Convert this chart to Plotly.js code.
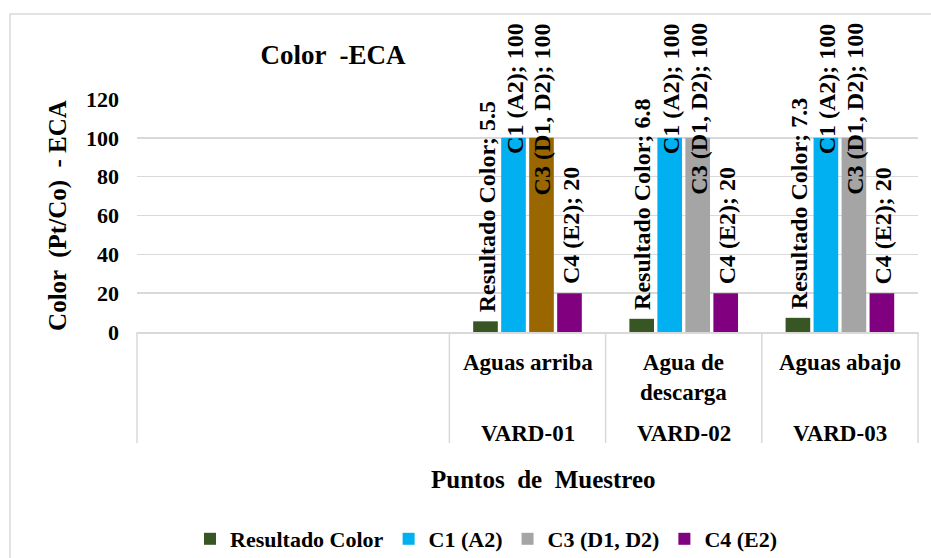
<!DOCTYPE html>
<html><head><meta charset="utf-8">
<script src="https://cdn.plot.ly/plotly-3.0.1.min.js"></script>
<style>html,body{margin:0;padding:0;background:#fff}#chart{width:931px;height:558px}</style>
</head><body><div id="chart"></div>
<script>
// ---- data ----
const categoryKeys = ['vacio-1', 'vacio-2', 'VARD-01', 'VARD-02', 'VARD-03'];
const pointNames = ['', '', 'Aguas arriba', 'Agua de<br>descarga', 'Aguas abajo'];
const stationCodes = ['', '', 'VARD-01', 'VARD-02', 'VARD-03'];
const seriesNames = ['Resultado Color', 'C1 (A2)', 'C3 (D1, D2)', 'C4 (E2)'];
const resultadoColor = [null, null, 5.5, 6.8, 7.3];
const c1A2 = [null, null, 100, 100, 100];
const c3D1D2 = [null, null, 100, 100, 100];
const c4E2 = [null, null, 20, 20, 20];
const yTickVals = [0, 20, 40, 60, 80, 100, 120];
const chartTitle = 'Color  -ECA';
const xTitle = 'Puntos  de  Muestreo';
const yTitle = 'Color  (Pt/Co)  - ECA';

// ---- styles ----
const FONT = 'Liberation Serif, Times New Roman, serif';
const GRID = '#D9D9D9';
const seriesColors = [
  '#375623',
  '#00B0F0',
  ['#A5A5A5', '#A5A5A5', '#996600', '#A5A5A5', '#A5A5A5'],
  '#800080'
];
const seriesValues = [resultadoColor, c1A2, c3D1D2, c4E2];

const W = 931, H = 558;
const M = {l: 137, r: 13, t: 99, b: 226};
const PW = W - M.l - M.r, PH = H - M.t - M.b;
const Y_MAX = 120;
const BARGAP = 0.283, BARGROUPGAP = 0.12;
const LABEL_SIZE = 24;
const pxX = px => (px - M.l) / PW;          // page px -> paper x
const pxY = py => (H - M.b - py) / PH;      // page px -> paper y

const traces = seriesNames.map((name, j) => ({
  type: 'bar',
  name: name,
  x: categoryKeys,
  y: seriesValues[j],
  marker: {color: seriesColors[j]},
  hoverinfo: 'skip'
}));

const annotations = [];
// data labels (rotated)
const NS = seriesNames.length;
const slot = (1 - BARGAP) / NS;
seriesValues.forEach((vals, j) => {
  vals.forEach((v, i) => {
    if (v === null) return;
    const text = seriesNames[j] + '; ' + v;
    const xpos = i + (j - (NS - 1) / 2) * slot + 0.006;
    const estLen = text.length * LABEL_SIZE * 0.5;
    const barTopPx = PH * v / Y_MAX;
    const fits = barTopPx + 14 + estLen <= PH + 80;
    const base = {xref: 'x', yref: 'y', x: xpos, text: text, textangle: -90,
      showarrow: false, xanchor: 'center',
      font: {family: FONT, size: LABEL_SIZE, color: '#000', weight: 'bold'}};
    if (fits) annotations.push(Object.assign(base, {y: v, yanchor: 'bottom', yshift: 7}));
    else annotations.push(Object.assign(base, {y: Y_MAX, yanchor: 'top', yshift: 78}));
  });
});
// two-level category labels
categoryKeys.forEach((k, i) => {
  if (pointNames[i]) annotations.push({xref: 'x', yref: 'paper', x: i, y: 0, yshift: -16,
    yanchor: 'top', xanchor: 'center', showarrow: false, text: pointNames[i],
    font: {family: FONT, size: 23, color: '#000', weight: 'bold'}});
  if (stationCodes[i]) annotations.push({xref: 'x', yref: 'paper', x: i, y: 0, yshift: -101,
    yanchor: 'middle', xanchor: 'center', showarrow: false, text: stationCodes[i],
    font: {family: FONT, size: 23, color: '#000', weight: 'bold'}});
});
// x-axis title
annotations.push({xref: 'paper', yref: 'paper', x: pxX(543), y: pxY(479),
  xanchor: 'center', yanchor: 'middle', showarrow: false, text: xTitle,
  font: {family: FONT, size: 25, color: '#000', weight: 'bold'}});

const shapes = [];
// dividers of the category axis
const N = categoryKeys.length;
for (let k = 0; k <= N; k++) {
  if (k > 0 && k < N && !stationCodes[k] && !stationCodes[k - 1]) continue;
  shapes.push({type: 'line', xref: 'paper', yref: 'paper', x0: k / N, x1: k / N,
    y0: 0, y1: pxY(443), line: {color: GRID, width: 1.5}});
}
// chart border
shapes.push({type: 'rect', xref: 'paper', yref: 'paper', x0: pxX(10), x1: pxX(940),
  y0: pxY(570), y1: pxY(14), line: {color: GRID, width: 1.5}, layer: 'below'});

const layout = {
  width: W, height: H,
  margin: {l: M.l, r: M.r, t: M.t, b: M.b, pad: 0, autoexpand: false},
  paper_bgcolor: '#fff', plot_bgcolor: '#fff',
  font: {family: FONT, color: '#000'},
  title: {text: chartTitle, x: pxX(333), xref: 'paper', xanchor: 'center',
    y: 1 - 55 / H, yref: 'container', yanchor: 'middle',
    font: {family: FONT, size: 27, color: '#000', weight: 'bold'}},
  barmode: 'group', bargap: BARGAP, bargroupgap: BARGROUPGAP,
  xaxis: {type: 'category', categoryorder: 'array', categoryarray: categoryKeys,
    range: [-0.5, N - 0.5], showticklabels: false, ticks: '', showgrid: false,
    showline: true, linecolor: GRID, linewidth: 1.5, zeroline: false, fixedrange: true},
  yaxis: {range: [0, Y_MAX], tickvals: yTickVals, showgrid: true, gridcolor: GRID,
    gridwidth: 1.5, zeroline: false, showline: false, ticks: '', fixedrange: true,
    ticklabelstandoff: 17,
    tickfont: {family: FONT, size: 22, color: '#000', weight: 'bold'},
    title: {text: yTitle, standoff: 12,
      font: {family: FONT, size: 25, color: '#000', weight: 'bold'}}},
  showlegend: true,
  legend: {orientation: 'h', x: pxX(190), xanchor: 'left', y: pxY(539), yanchor: 'middle',
    itemwidth: 30, bgcolor: 'rgba(0,0,0,0)', traceorder: 'normal',
    font: {family: FONT, size: 22, color: '#000', weight: 'bold'}},
  annotations: annotations,
  shapes: shapes
};

Plotly.newPlot('chart', traces, layout, {displayModeBar: false, staticPlot: true});
</script>
</body></html>
